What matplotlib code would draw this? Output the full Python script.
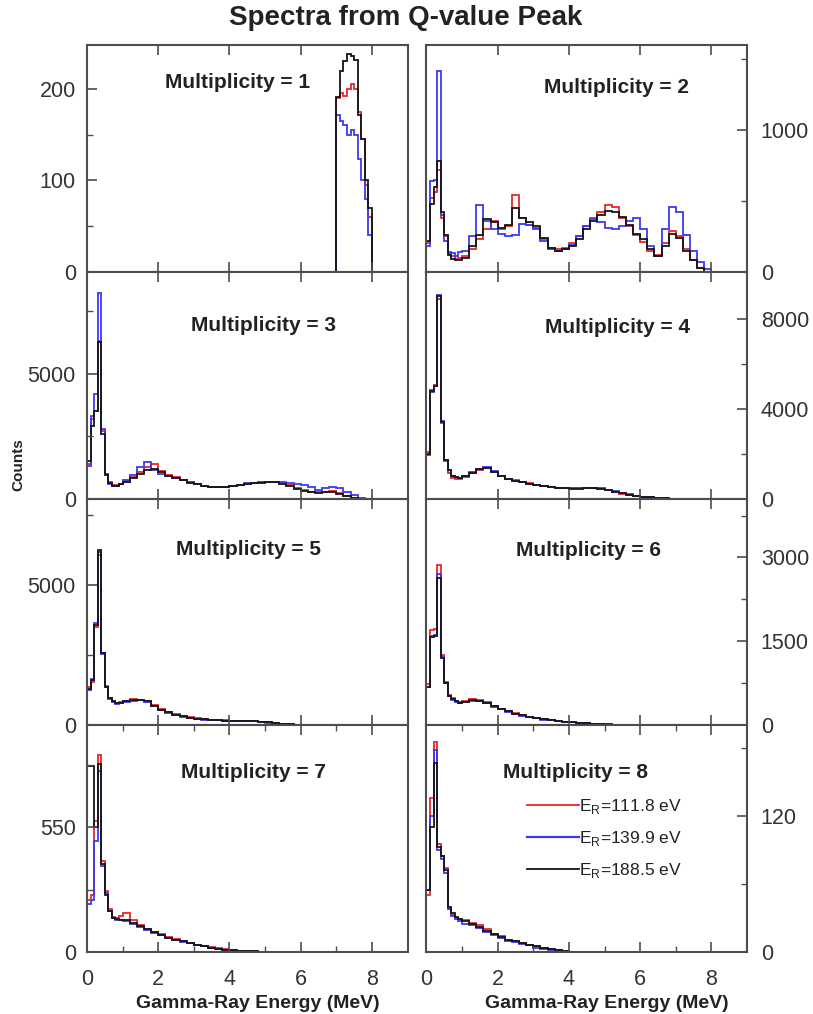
import matplotlib
matplotlib.use("Agg")
import matplotlib.pyplot as plt

plt.rcParams['font.family'] = ['Liberation Sans', 'DejaVu Sans']

# bin edges (MeV): 0.1 MeV below 1 MeV, 0.2 MeV above
edges = [0.0, 0.1, 0.2, 0.3, 0.4, 0.5, 0.6, 0.7, 0.8, 0.9,
         1.0, 1.2, 1.4, 1.6, 1.8, 2.0, 2.2, 2.4, 2.6, 2.8,
         3.0, 3.2, 3.4, 3.6, 3.8, 4.0, 4.2, 4.4, 4.6, 4.8,
         5.0, 5.2, 5.4, 5.6, 5.8, 6.0, 6.2, 6.4, 6.6, 6.8,
         7.0, 7.2, 7.4, 7.6, 7.8, 8.0]
edges_m1 = [7.0, 7.1, 7.2, 7.3, 7.4, 7.5, 7.6, 7.7, 7.8, 7.9, 8.0]

labels = ["E$_\\mathregular{R}$=111.8 eV",
          "E$_\\mathregular{R}$=139.9 eV",
          "E$_\\mathregular{R}$=188.5 eV"]
colors = ['#e8262d', '#3a3af2', '#161616']

# multiplicity 1 (only above 7 MeV)
m1_red = [190, 195, 192, 200, 205, 200, 175, 145, 95, 60]
m1_blue = [172, 165, 160, 150, 155, 150, 123, 100, 80, 40]
m1_black = [191, 220, 230, 238, 236, 232, 172, 145, 100, 70]

# multiplicity 2
m2_red = [200, 520, 560, 720, 380, 250, 130, 110, 90, 95,
          110, 160, 230, 300, 360,
          300, 320, 540, 380, 330,
          310, 230, 170, 160, 170,
          200, 250, 320, 380, 420,
          470, 460, 380, 320, 260,
          210, 150, 120, 200, 290,
          250, 160, 80, 30]
m2_blue = [180, 640, 650, 1420, 400, 220, 140, 130, 110, 140,
           150, 250, 470, 360, 300,
           270, 250, 260, 340, 330,
           300, 220, 160, 150, 160,
           190, 250, 320, 370, 350,
           310, 300, 320, 360, 380,
           300, 180, 110, 300, 460,
           420, 260, 150, 70, 20]
m2_black = [220, 480, 600, 780, 420, 260, 120, 90, 80, 80,
            100, 180, 260, 370, 350,
            310, 330, 450, 380, 350,
            320, 240, 170, 150, 160,
            180, 230, 300, 360, 400,
            430, 420, 390, 330, 270,
            230, 160, 110, 180, 270,
            240, 150, 80, 30]

# multiplicity 3
m3_red = [1400, 3200, 3500, 6300, 2700, 1000, 650, 550, 550, 600,
          700, 850, 1050, 1250, 1400,
          1100, 950, 850, 750, 650,
          580, 520, 480, 470, 480,
          520, 560, 600, 630, 650,
          680, 670, 620, 540, 430,
          330, 270, 250, 280, 300,
          220, 120, 40]
m3_blue = [1300, 3300, 4200, 8250, 2800, 1000, 600, 520, 520, 600,
           750, 950, 1250, 1450, 1150,
           1000, 900, 820, 740, 650,
           580, 520, 480, 470, 480,
           520, 560, 610, 640, 660,
           680, 660, 650, 640, 600,
           560, 450, 330, 420, 480,
           420, 280, 140, 40]
m3_black = [1500, 2900, 3500, 6250, 2600, 950, 620, 520, 520, 580,
            680, 830, 1000, 1150, 1200,
            1050, 920, 830, 730, 640,
            570, 510, 470, 460, 470,
            510, 550, 590, 620, 640,
            660, 650, 600, 500, 380,
            300, 250, 230, 250, 270,
            200, 110, 40]

# multiplicity 4
m4_red = [2050, 4850, 5050, 8900, 3350, 1650, 1150, 920, 880, 880,
          980, 1130, 1280, 1350, 1180,
          990, 880, 810, 740, 680,
          620, 560, 510, 480, 460,
          450, 450, 460, 460, 430,
          370, 290, 220, 160, 110,
          70, 45, 25, 10]
m4_blue = [1950, 4750, 5000, 9050, 3450, 1700, 1250, 1000, 950, 920,
           1010, 1160, 1310, 1390, 1210,
           1010, 890, 800, 720, 660,
           600, 540, 500, 480, 460,
           450, 450, 460, 470, 450,
           400, 320, 240, 180, 130,
           90, 55, 30, 12]
m4_black = [2000, 4800, 5000, 9000, 3400, 1700, 1250, 1000, 950, 900,
            1000, 1150, 1300, 1380, 1200,
            1000, 880, 800, 720, 660,
            600, 540, 500, 470, 450,
            440, 440, 450, 450, 430,
            380, 300, 230, 170, 120,
            80, 50, 30, 10]

# multiplicity 5
m5_red = [1350, 1550, 3500, 6100, 2600, 1400, 980, 860, 800, 820,
          880, 930, 920, 860, 720,
          580, 480, 400, 330, 280,
          250, 220, 200, 185, 175,
          165, 160, 150, 140, 120,
          95, 75, 50, 30, 12]
m5_blue = [1250, 1650, 3650, 6200, 2550, 1350, 940, 830, 770, 790,
           840, 880, 890, 840, 690,
           550, 450, 370, 310, 265,
           235, 205, 185, 175, 165,
           160, 158, 150, 140, 125,
           100, 80, 55, 35, 15]
m5_black = [1300, 1600, 3600, 6250, 2570, 1360, 960, 850, 780, 800,
            850, 900, 900, 850, 700,
            560, 460, 380, 320, 270,
            240, 210, 190, 180, 170,
            165, 160, 155, 145, 125,
            100, 80, 55, 35, 15]

# multiplicity 6
m6_red = [730, 1700, 1720, 2860, 1250, 780, 540, 480, 440, 420,
          440, 470, 450, 410, 350,
          300, 255, 215, 180, 150,
          125, 105, 88, 74, 62,
          52, 43, 35, 27, 20,
          13, 8, 5, 2]
m6_blue = [690, 1600, 1620, 2700, 1220, 760, 520, 460, 420, 400,
           410, 440, 430, 390, 330,
           285, 245, 205, 175, 148,
           122, 102, 88, 74, 63,
           53, 44, 36, 28, 21,
           14, 9, 5, 2]
m6_black = [680, 1570, 1600, 2640, 1210, 750, 520, 470, 430, 400,
            420, 450, 440, 400, 340,
            290, 250, 210, 180, 150,
            125, 105, 90, 75, 65,
            55, 45, 38, 30, 22,
            15, 10, 6, 3]

# multiplicity 7
m7_red = [230, 250, 580, 867, 400, 270, 190, 155, 150, 160,
          172, 140, 118, 102, 90,
          78, 66, 57, 48, 40,
          33, 27, 21, 16, 12,
          9, 6, 4, 3, 2]
m7_blue = [210, 230, 490, 800, 380, 260, 180, 150, 140, 140,
           135, 125, 112, 98, 85,
           73, 62, 53, 45, 38,
           31, 25, 19, 14, 10,
           7, 5, 4, 2, 1]
m7_black = [820, 820, 550, 830, 390, 250, 180, 150, 145, 140,
            140, 130, 115, 100, 88,
            75, 64, 55, 47, 40,
            32, 26, 20, 15, 11,
            8, 6, 4, 3, 2,
            1]

# multiplicity 8
m8_red = [50, 136, 185, 95, 85, 74, 38, 33, 30, 29,
          28, 26, 24, 20, 16,
          14, 11, 10, 8, 6,
          5, 4, 3, 2, 1]
m8_blue = [55, 120, 178, 90, 82, 70, 38, 32, 29, 27,
           25, 24, 21, 18, 15,
           12, 10, 9, 7, 6,
           4, 3, 2, 2, 1]
m8_black = [55, 110, 167, 93, 85, 72, 40, 34, 31, 29,
            27, 25, 22, 19, 16,
            13, 11, 10, 8, 6,
            5, 4, 3, 2, 1]

spectra = [(m1_red, m1_blue, m1_black), (m2_red, m2_blue, m2_black),
           (m3_red, m3_blue, m3_black), (m4_red, m4_blue, m4_black),
           (m5_red, m5_blue, m5_black), (m6_red, m6_blue, m6_black),
           (m7_red, m7_blue, m7_black), (m8_red, m8_blue, m8_black)]

y_tops = [248, 1600, 9080, 10090, 8100, 4054, 1000, 200]
y_major = [[0, 100, 200], [0, 1000], [0, 5000], [0, 4000, 8000],
           [0, 5000], [0, 1500, 3000], [0, 550], [0, 120]]
y_minor = [[50, 150], [500, 1500], [2500, 7500], [2000, 6000],
           [2500, 7500], [750, 2250, 3750], [275, 825], [60, 180]]
# where the "Multiplicity = n" label sits (axes fraction)
mult_pos = [(0.469, 0.836), (0.592, 0.814), (0.55, 0.762), (0.597, 0.753),
            (0.504, 0.775), (0.505, 0.771), (0.52, 0.793), (0.464, 0.793)]

spine_col = '#4d4d4d'

fig = plt.figure(figsize=(8.13, 10.14), dpi=100)
gs = fig.add_gridspec(4, 2, left=0.107, right=0.9188, top=0.9556,
                      bottom=0.0611, hspace=0, wspace=0.059)

for i in range(8):
    row, col = divmod(i, 2)
    ax = fig.add_subplot(gs[row, col])
    ed = edges_m1 if i == 0 else edges
    for vals, c in zip(spectra[i], colors):
        ax.stairs(vals, ed[:len(vals) + 1], color=c, lw=1.3, baseline=0)

    ax.set_xlim(0, 9)
    ax.set_ylim(0, y_tops[i])
    ax.set_xticks([0, 2, 4, 6, 8])
    ax.set_yticks(y_major[i])
    ax.set_yticks(y_minor[i], minor=True)
    if row == 3:
        ax.set_xticks([1, 3, 5, 7], minor=True)
        ax.set_xlabel("Gamma-Ray Energy (MeV)", fontsize=14, fontweight='bold',
                      color='#222222')
        ax.xaxis.set_label_coords(0.533 if col == 0 else 0.564, -0.19)
    else:
        ax.tick_params(axis='x', labelbottom=False)

    ax.xaxis.set_ticks_position('both')
    if col == 0:
        ax.yaxis.set_ticks_position('left')
    else:
        ax.yaxis.set_ticks_position('right')
        ax.yaxis.set_label_position('right')

    ax.tick_params(which='both', direction='in', color=spine_col,
                   labelcolor='#333333', labelsize=15.5)
    ax.tick_params(which='major', length=7, width=1.2)
    ax.tick_params(which='minor', length=4, width=1.0)
    ax.tick_params(axis='x', pad=12)
    ax.tick_params(axis='y', pad=8 if col == 0 else 10)

    for s in ax.spines.values():
        s.set_color(spine_col)
        s.set_linewidth(1.5)

    ax.text(mult_pos[i][0], mult_pos[i][1], "Multiplicity = %d" % (i + 1),
            transform=ax.transAxes, ha='center', va='center',
            fontsize=15, fontweight='bold', color='#222222')

    if i == 7:
        hs = [plt.Line2D([], [], color=c, lw=1.6 if c == colors[1] else 1.3)
              for c in colors]
        ax.legend(hs, labels, loc='upper left', bbox_to_anchor=(0.315, 0.685),
                  frameon=False, fontsize=12.5, handlelength=3.0,
                  handletextpad=0.0, labelspacing=0.75, borderpad=0,
                  borderaxespad=0, labelcolor='#222222')

fig.text(0.499, 1 - 18 / 1014, "Spectra from Q-value Peak", ha='center',
         va='center', fontsize=20, fontweight='bold', color='#222222')
fig.text(18 / 813, 1 - 465 / 1014, "Counts", rotation=90, ha='center',
         va='center', fontsize=11, fontweight='bold', color='#222222')

fig.savefig("out.png", dpi=100)
